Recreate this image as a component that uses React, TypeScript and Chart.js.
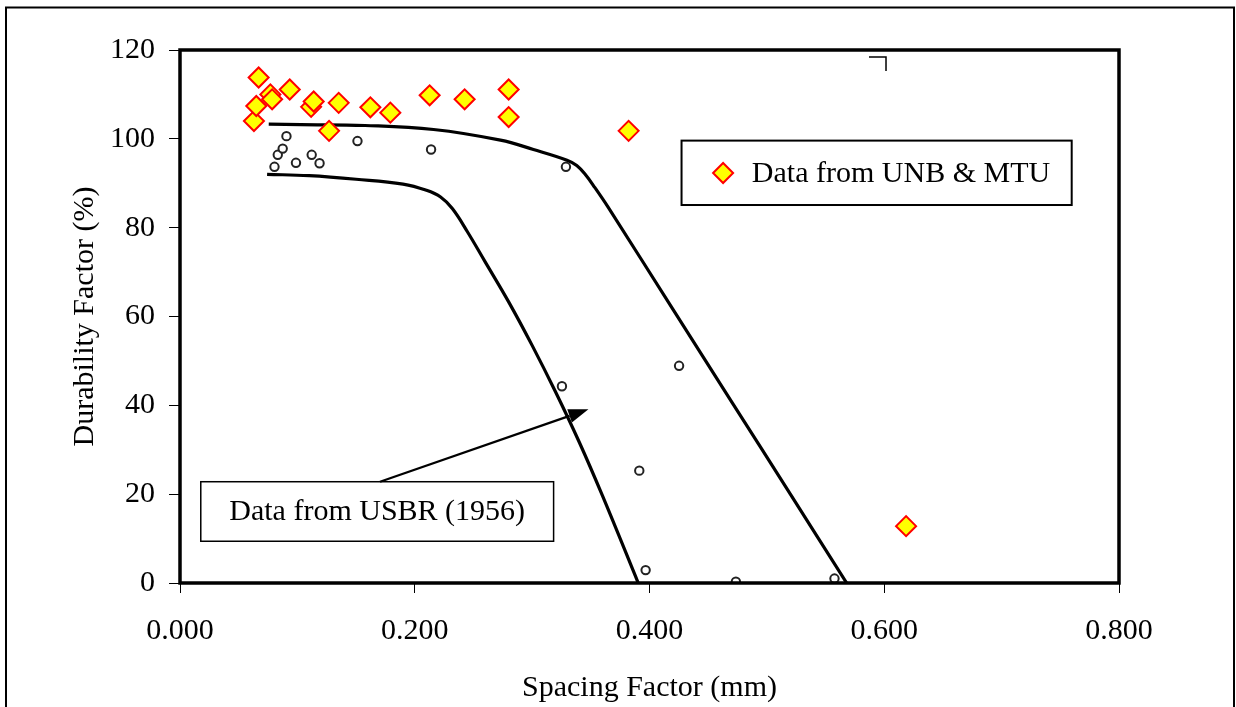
import React, { useEffect, useRef } from 'react';
import { Chart, registerables } from 'chart.js';

Chart.register(...registerables);

// ---------- data ----------
const unbX = [0.063, 0.065, 0.067, 0.077, 0.0785, 0.0935, 0.1117, 0.1139, 0.127, 0.1352, 0.1622, 0.1792, 0.2127, 0.2425, 0.28, 0.28, 0.3822, 0.6186];
const unbY = [104.0, 107.4, 113.8, 110.0, 108.9, 111.1, 107.2, 108.4, 101.8, 108.1, 107.1, 105.9, 109.8, 108.9, 111.1, 104.9, 101.8, 12.8];

const usbrX = [0.0805, 0.0833, 0.0875, 0.0907, 0.0988, 0.1122, 0.1189, 0.1512, 0.2139, 0.3254, 0.3288, 0.3913, 0.3967, 0.4252, 0.4736, 0.5576];
const usbrY = [93.7, 96.4, 97.8, 100.6, 94.6, 96.4, 94.5, 99.5, 97.6, 44.3, 93.7, 25.3, 2.9, 48.9, 0.3, 1.0];

const upperX = [0.0756, 0.103, 0.1576, 0.216, 0.273, 0.3011, 0.3297, 0.338, 0.3455, 0.3535, 0.365, 0.42, 0.47, 0.52, 0.568];
const upperY = [103.3, 103.2, 103.0, 102.1, 99.7, 97.6, 95.2, 94.0, 91.9, 89.0, 84.5, 61.6, 40.8, 20.0, 0];

const lowerX = [0.0742, 0.11, 0.15, 0.19, 0.21, 0.222, 0.232, 0.2446, 0.26, 0.28, 0.30, 0.32, 0.34, 0.36, 0.3904];
const lowerY = [92.0, 91.7, 90.9, 89.8, 88.4, 86.9, 84.3, 79.2, 72.3, 63.3, 53.5, 43.0, 31.8, 19.6, 0];

const xTicks = [0, 0.2, 0.4, 0.6, 0.8];
const yTicks = [0, 20, 40, 60, 80, 100, 120];

const xTitle = 'Spacing Factor (mm)';
const yTitle = 'Durability Factor (%)';
const unbLabel = 'Data from UNB & MTU';
const usbrLabel = 'Data from USBR (1956)';

// annotation placement (data coordinates)
const usbrBox = { x1: 0.0177, x2: 0.3183, y1: 22.8, y2: 9.4 };
const usbrArrow = { x1: 0.1704, y1: 22.8, x2: 0.348, y2: 39.1 };
const legendBox = { x1: 0.4273, x2: 0.7597, y1: 99.6, y2: 85.1, markX: 0.4627, markY: 92.3, textX: 0.4872 };
const cornerMark = { x1: 0.587, x2: 0.6015, y1: 118.4, y2: 115.3 };

const FONT = "'Liberation Serif', 'Times New Roman', serif";

const toXY = (xs: number[], ys: number[]) => xs.map((x, i) => ({ x, y: ys[i] }));

const decorPlugin = {
  id: 'decor',
  afterDatasetsDraw(chart: any) {
    const { ctx, scales } = chart;
    const xs = scales.x;
    const ys = scales.y;
    const px = (v: number) => xs.getPixelForValue(v);
    const py = (v: number) => ys.getPixelForValue(v);
    ctx.save();

    // USBR box
    const bx1 = px(usbrBox.x1), bx2 = px(usbrBox.x2), by1 = py(usbrBox.y1), by2 = py(usbrBox.y2);
    ctx.fillStyle = '#ffffff';
    ctx.fillRect(bx1, by1, bx2 - bx1, by2 - by1);
    ctx.strokeStyle = '#000';
    ctx.lineWidth = 1.5;
    ctx.strokeRect(bx1, by1, bx2 - bx1, by2 - by1);
    ctx.fillStyle = '#000';
    ctx.font = `30px ${FONT}`;
    ctx.textAlign = 'center';
    ctx.textBaseline = 'middle';
    ctx.fillText(usbrLabel, (bx1 + bx2) / 2, (by1 + by2) / 2 + 1);

    // arrow
    const ax1 = px(usbrArrow.x1), ay1 = py(usbrArrow.y1), ax2 = px(usbrArrow.x2), ay2 = py(usbrArrow.y2);
    const ang = Math.atan2(ay2 - ay1, ax2 - ax1);
    const headLen = 20, headW = 7;
    const bxh = ax2 - headLen * Math.cos(ang), byh = ay2 - headLen * Math.sin(ang);
    ctx.strokeStyle = '#000';
    ctx.lineWidth = 2.2;
    ctx.beginPath();
    ctx.moveTo(ax1, ay1);
    ctx.lineTo(bxh, byh);
    ctx.stroke();
    ctx.beginPath();
    ctx.moveTo(ax2, ay2);
    ctx.lineTo(bxh + headW * Math.sin(ang), byh - headW * Math.cos(ang));
    ctx.lineTo(bxh - headW * Math.sin(ang), byh + headW * Math.cos(ang));
    ctx.closePath();
    ctx.fillStyle = '#000';
    ctx.fill();

    // legend box
    const lx1 = px(legendBox.x1), lx2 = px(legendBox.x2), ly1 = py(legendBox.y1), ly2 = py(legendBox.y2);
    ctx.fillStyle = '#fff';
    ctx.fillRect(lx1, ly1, lx2 - lx1, ly2 - ly1);
    ctx.strokeStyle = '#000';
    ctx.lineWidth = 2;
    ctx.strokeRect(lx1, ly1, lx2 - lx1, ly2 - ly1);
    const mx = px(legendBox.markX), my = py(legendBox.markY), r = 10;
    ctx.beginPath();
    ctx.moveTo(mx - r, my);
    ctx.lineTo(mx, my - r);
    ctx.lineTo(mx + r, my);
    ctx.lineTo(mx, my + r);
    ctx.closePath();
    ctx.fillStyle = '#FFFF00';
    ctx.fill();
    ctx.strokeStyle = '#FF0000';
    ctx.lineWidth = 2;
    ctx.stroke();
    ctx.fillStyle = '#000';
    ctx.font = `30px ${FONT}`;
    ctx.textAlign = 'left';
    ctx.textBaseline = 'middle';
    ctx.fillText(unbLabel, px(legendBox.textX), my + 1);

    // small corner mark
    ctx.strokeStyle = '#000';
    ctx.lineWidth = 1.5;
    ctx.beginPath();
    ctx.moveTo(px(cornerMark.x1), py(cornerMark.y1));
    ctx.lineTo(px(cornerMark.x2), py(cornerMark.y1));
    ctx.lineTo(px(cornerMark.x2), py(cornerMark.y2));
    ctx.stroke();
    ctx.restore();
  },
  afterDraw(chart: any) {
    const { ctx, chartArea: a } = chart;
    ctx.save();
    ctx.strokeStyle = '#000';
    ctx.lineWidth = 3.5;
    ctx.strokeRect(a.left, a.top, a.right - a.left, a.bottom - a.top);
    ctx.lineWidth = 2;
    ctx.strokeRect(6, 7.5, 1228, 720);
    ctx.restore();
  },
};

export default function App() {
  const ref = useRef<HTMLCanvasElement>(null);

  useEffect(() => {
    if (!ref.current) return;
    Chart.defaults.font.family = FONT;
    Chart.defaults.color = '#000';
    const chart = new Chart(ref.current, {
      type: 'scatter',
      data: {
        datasets: [
          {
            label: unbLabel,
            data: toXY(unbX, unbY),
            pointStyle: 'rectRot',
            pointRadius: 10,
            pointBorderWidth: 2,
            borderColor: '#FF0000',
            backgroundColor: '#FFFF00',
            order: 1,
          } as any,
          {
            label: usbrLabel,
            data: toXY(usbrX, usbrY),
            pointStyle: 'circle',
            pointRadius: 4.2,
            pointBorderWidth: 2,
            borderColor: '#222',
            backgroundColor: '#fff',
            order: 2,
          } as any,
          {
            label: 'USBR upper',
            data: toXY(upperX, upperY),
            showLine: true,
            tension: 0.4,
            borderColor: '#000',
            borderWidth: 3.2,
            pointRadius: 0,
            order: 3,
          } as any,
          {
            label: 'USBR lower',
            data: toXY(lowerX, lowerY),
            showLine: true,
            tension: 0.4,
            borderColor: '#000',
            borderWidth: 3.2,
            pointRadius: 0,
            order: 3,
          } as any,
        ],
      },
      options: {
        responsive: false,
        animation: false,
        layout: { padding: { top: 50, right: 117, bottom: 0, left: 0 } },
        plugins: {
          legend: { display: false },
          tooltip: { enabled: false },
        },
        scales: {
          x: {
            type: 'linear',
            min: 0,
            max: 0.8,
            afterBuildTicks: (s: any) => {
              s.ticks = xTicks.map((v) => ({ value: v }));
            },
            afterFit: (s: any) => {
              s.height = 124;
            },
            ticks: {
              font: { size: 30 },
              color: '#000',
              padding: 20,
              maxRotation: 0,
              callback: (v: any) => Number(v).toFixed(3),
            },
            grid: {
              display: true,
              drawOnChartArea: false,
              drawTicks: true,
              tickLength: 10,
              tickWidth: 1,
              tickColor: '#000',
              color: '#000',
            },
            border: { display: false },
            title: {
              display: true,
              text: xTitle,
              font: { size: 30 },
              color: '#000',
              padding: { top: 0, bottom: 1 },
            },
          },
          y: {
            type: 'linear',
            min: 0,
            max: 120,
            afterBuildTicks: (s: any) => {
              s.ticks = yTicks.map((v) => ({ value: v }));
            },
            afterFit: (s: any) => {
              s.width = 180;
            },
            ticks: {
              font: { size: 30 },
              color: '#000',
              padding: 14,
              callback: (v: any) => String(v),
            },
            grid: {
              display: true,
              drawOnChartArea: false,
              drawTicks: true,
              tickLength: 11,
              tickWidth: 1,
              tickColor: '#000',
              color: '#000',
            },
            border: { display: false },
            title: {
              display: true,
              text: yTitle,
              font: { size: 30 },
              color: '#000',
              padding: { top: 67, bottom: 0 },
            },
          },
        },
      },
      plugins: [decorPlugin],
    } as any);
    return () => chart.destroy();
  }, []);

  return (
    <div style={{ position: 'absolute', left: 0, top: 0, width: 1236, height: 707, background: '#fff' }}>
      <canvas ref={ref} width={1236} height={707} style={{ display: 'block' }} />
    </div>
  );
}
